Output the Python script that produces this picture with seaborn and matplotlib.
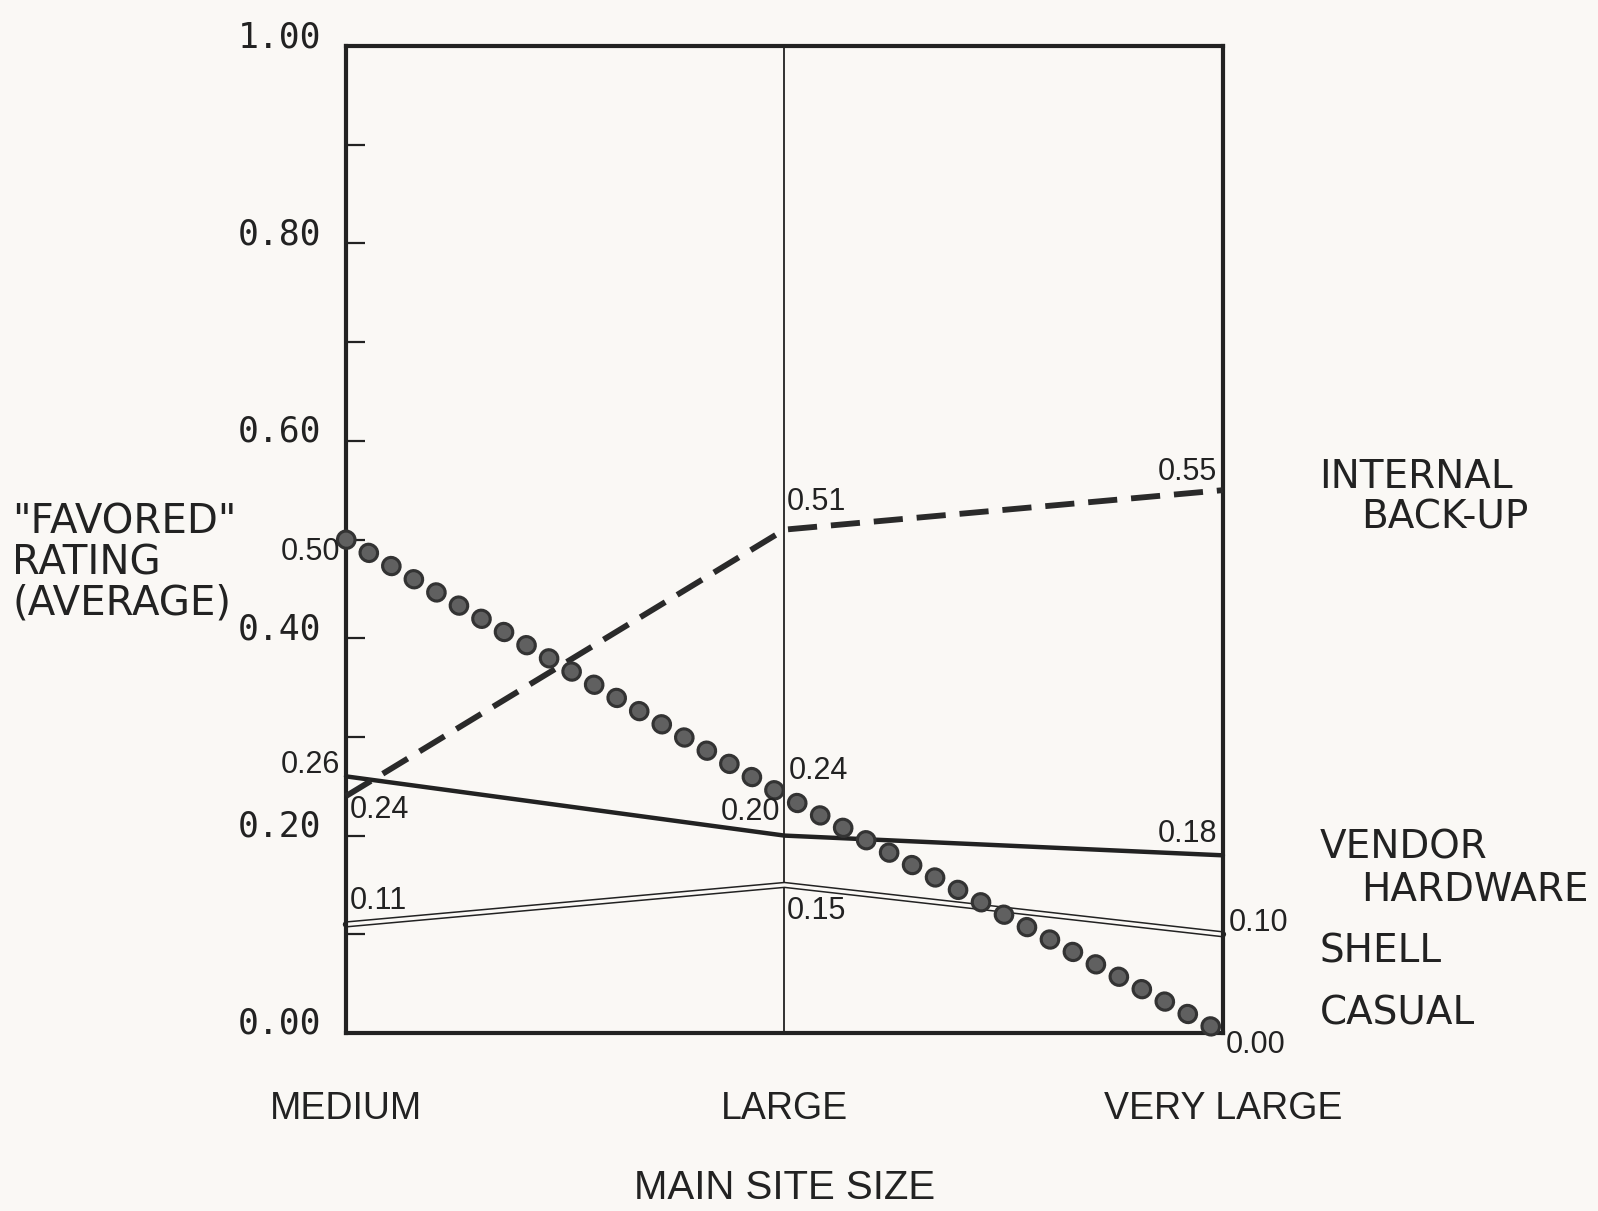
#!/usr/bin/env python3
# "Favored" rating vs main site size -- redrawn from a scanned report figure

import numpy as np
import pandas as pd
import seaborn as sns
import matplotlib.pyplot as plt
from matplotlib.transforms import ScaledTranslation

# ---- data ------------------------------------------------------------------
sizes = ['MEDIUM', 'LARGE', 'VERY LARGE']
internal_backup = [0.24, 0.51, 0.55]
vendor_hardware = [0.26, 0.20, 0.18]
shell = [0.11, 0.15, 0.10]
casual = [0.50, 0.24, 0.00]

yticks = [0.0, 0.1, 0.2, 0.3, 0.4, 0.5, 0.6, 0.7, 0.8, 0.9, 1.0]
ytick_labels = ['0.00', '', '0.20', '', '0.40', '', '0.60', '', '0.80', '', '1.00']

series_names = ['INTERNAL BACK-UP', 'VENDOR HARDWARE', 'SHELL', 'CASUAL']
series_values = [internal_backup, vendor_hardware, shell, casual]

df = pd.DataFrame([
    {'series': name, 'pos': i, 'size': s, 'rating': v}
    for name, vals in zip(series_names, series_values)
    for i, (s, v) in enumerate(zip(sizes, vals))
])

# ---- style -----------------------------------------------------------------
sns.set_theme(style='ticks')
paper = '#faf8f5'
ink = '#222222'
plt.rcParams['figure.facecolor'] = paper
plt.rcParams['axes.facecolor'] = paper
plt.rcParams['lines.scale_dashes'] = False
plt.rcParams['font.family'] = ['DejaVu Sans']

fig = plt.figure(figsize=(15.98, 12.11), dpi=100)
ax = fig.add_axes([0.2165, 0.147, 0.5488, 0.815])


def sub(name):
    return df[df.series == name]


# vertical guide at LARGE
ax.axvline(1, color=ink, lw=1.3, zorder=1)

# shell: double line (dark stroke with a paper-coloured core)
sns.lineplot(data=sub('SHELL'), x='pos', y='rating', color=ink, lw=4.6,
             ax=ax, clip_on=False, zorder=2)
sns.lineplot(data=sub('SHELL'), x='pos', y='rating', color=paper, lw=2.4,
             ax=ax, clip_on=False, zorder=2)

# vendor hardware: solid
sns.lineplot(data=sub('VENDOR HARDWARE'), x='pos', y='rating', color=ink,
             lw=3.2, ax=ax, clip_on=False, zorder=3)

# internal back-up: long dashes
sns.lineplot(data=sub('INTERNAL BACK-UP'), x='pos', y='rating', color='#2a2a2a',
             lw=4.2, linestyle=(0, (21, 10)), ax=ax, clip_on=False, zorder=3)

# casual: big round dots (outer ring + lighter core)
dot_pattern = (0, (0.5, 18.3))
sns.lineplot(data=sub('CASUAL'), x='pos', y='rating', color='#333333',
             lw=14.5, linestyle=dot_pattern, dash_capstyle='round',
             ax=ax, clip_on=False, zorder=4)
sns.lineplot(data=sub('CASUAL'), x='pos', y='rating', color='#606060',
             lw=10, linestyle=dot_pattern, dash_capstyle='round',
             ax=ax, clip_on=False, zorder=4)

# ---- axes ------------------------------------------------------------------
ax.set_xlim(0, 2)
ax.set_ylim(0, 1)
for sp in ax.spines.values():
    sp.set_visible(True)
    sp.set_linewidth(3.0)
    sp.set_color(ink)

narrow = ['Liberation Sans Narrow', 'Liberation Sans', 'DejaVu Sans']
ax.set_xticks(range(len(sizes)))
ax.set_xticklabels(sizes, family=narrow, fontsize=27, color=ink)
ax.tick_params(axis='x', length=0, pad=42)

ax.set_yticks(yticks)
ax.set_yticklabels(ytick_labels, family=['DejaVu Sans Mono'], fontsize=25, color=ink)
ax.tick_params(axis='y', direction='in', length=14, width=1.6, color=ink, pad=18)
# the scanned labels sit a little above their ticks
for lab in ax.get_yticklabels():
    lab.set_transform(lab.get_transform() + ScaledTranslation(0, 9 / 72, fig.dpi_scale_trans))

ax.set_xlabel('MAIN SITE SIZE', family=narrow, fontsize=29, color=ink, labelpad=30)
ax.set_ylabel('')
fig.text(12 / 1598, 0.535, '"FAVORED"\nRATING\n(AVERAGE)', ha='left', va='center',
         fontsize=29, color=ink, linespacing=1.02)

# ---- point value labels ----------------------------------------------------
# (series, index, dx, dy in points, horizontal alignment)
value_labels = [
    ('CASUAL', 0, -4, -9, 'right'),
    ('VENDOR HARDWARE', 0, -4, 8, 'right'),
    ('INTERNAL BACK-UP', 0, 3, -10, 'left'),
    ('SHELL', 0, 3, 17, 'left'),
    ('INTERNAL BACK-UP', 1, 2, 20, 'left'),
    ('CASUAL', 1, 3, 18, 'left'),
    ('VENDOR HARDWARE', 1, -3, 17, 'right'),
    ('SHELL', 1, 2, -19, 'left'),
    ('INTERNAL BACK-UP', 2, -4, 13, 'right'),
    ('VENDOR HARDWARE', 2, -4, 15, 'right'),
    ('SHELL', 2, 4, 8, 'left'),
    ('CASUAL', 2, 2, -9, 'left'),
]
for name, i, dx, dy, ha in value_labels:
    v = series_values[series_names.index(name)][i]
    ax.annotate(f'{v:.2f}', xy=(i, v), xytext=(dx, dy), textcoords='offset points',
                ha=ha, va='center', fontsize=22, color=ink,
                family=['Liberation Sans', 'DejaVu Sans'], annotation_clip=False, zorder=5)

# ---- series names on the right --------------------------------------------
right_names = [
    ('INTERNAL', 1.110, 0.563),
    ('BACK-UP', 1.158, 0.522),
    ('VENDOR', 1.110, 0.188),
    ('HARDWARE', 1.158, 0.145),
    ('SHELL', 1.110, 0.083),
    ('CASUAL', 1.110, 0.020),
]
for txt, xa, yd in right_names:
    ax.text(xa, yd, txt, transform=ax.get_yaxis_transform(), ha='left', va='center',
            fontsize=28, color=ink, clip_on=False)

fig.savefig('out.png', dpi=100, facecolor=paper)
